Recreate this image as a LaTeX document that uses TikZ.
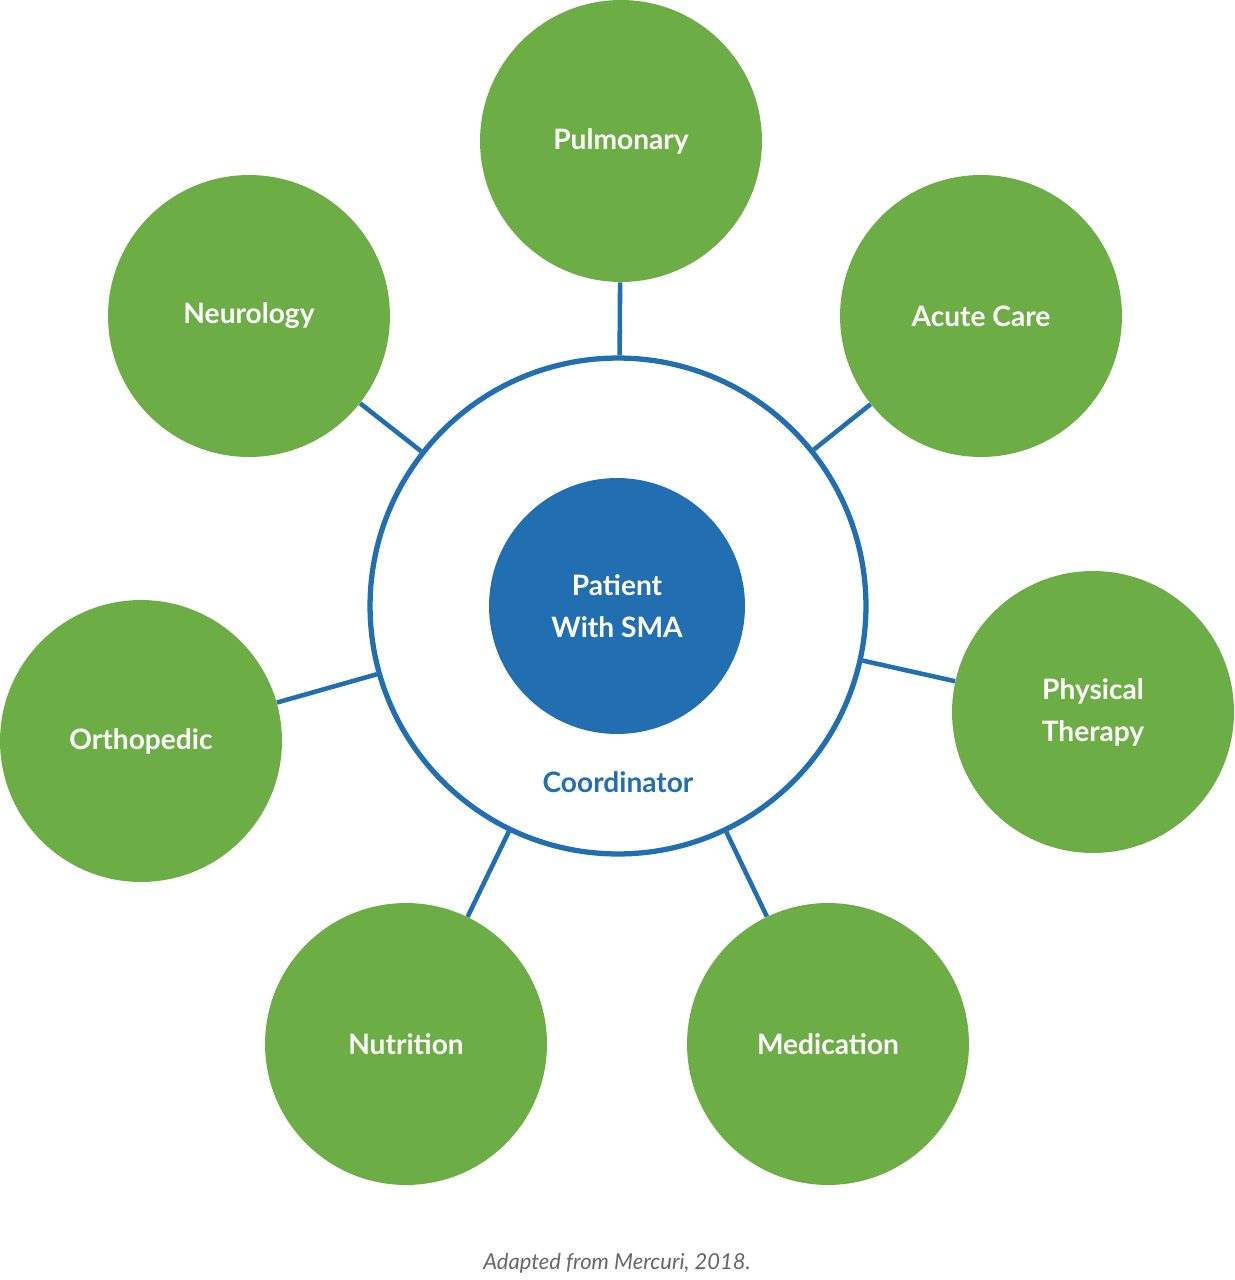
\documentclass[tikz,border=0pt]{standalone}
\usepackage{fontspec}
\setmainfont{Lato}
\definecolor{smagreen}{HTML}{6DAD46}
\definecolor{smablue}{HTML}{216EB1}
\tikzset{
  team/.style={circle,fill=smagreen,minimum size=5.64cm,inner sep=0pt,align=center,
    text=white,font=\fontsize{16}{24}\selectfont\bfseries},
  link/.style={draw=smablue,line width=2.6pt}
}
\begin{document}
\begin{tikzpicture}[x=0.02cm,y=-0.02cm]
        \useasboundingbox (0,0) rectangle (1234,1280);

        \node[circle,draw=smablue,line width=3pt,minimum size=9.92cm,inner sep=0pt] (ring) at (618,606) {};
        \node[circle,fill=smablue,minimum size=5.12cm,inner sep=0pt,align=center,text=white,
            font=\fontsize{16}{24}\selectfont\bfseries] (patient) at (617,606) {Patient\\With SMA};
        \node[text=smablue,font=\fontsize{16}{20}\selectfont\bfseries] (coord) at (618,782) {Coordinator};

        \node[team] (pulm) at (621,141) {Pulmonary};
        \node[team] (acute) at (981,316) {Acute Care};
        \node[team] (phys) at (1093,712) {Physical\\Therapy};
        \node[team] (medic) at (828,1044) {Medication};
        \node[team] (nutri) at (406,1044) {Nutrition};
        \node[team] (ortho) at (141,741) {Orthopedic};
        \node[team] (neuro) at (249,316) {Neurology};

        \foreach \t in {pulm,acute,phys,medic,nutri,ortho,neuro}
            \draw[link] (ring) -- (\t);

        \node[text=black!60,font=\fontsize{12.5}{15}\selectfont\itshape] (src) at (617,1263) {Adapted from Mercuri, 2018.};
    \end{tikzpicture}
\end{document}
